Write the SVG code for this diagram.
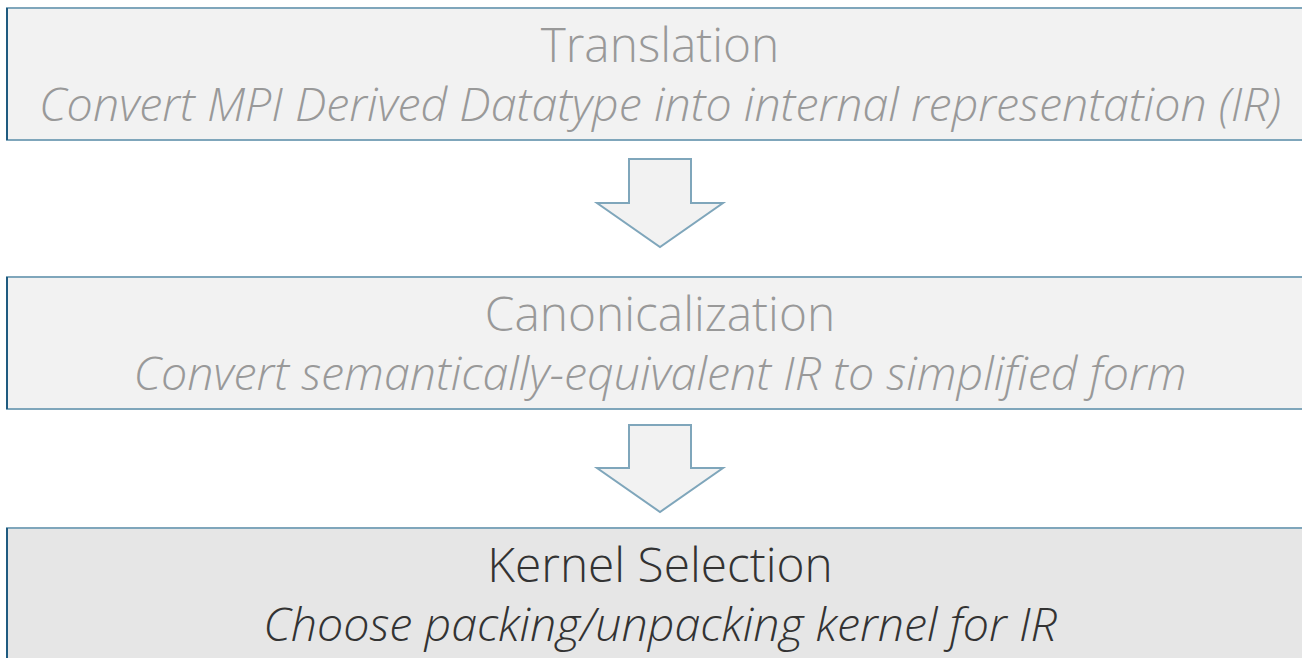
<svg xmlns="http://www.w3.org/2000/svg" width="1302" height="658" viewBox="0 0 1302 658">
<style>
.box{stroke:#7fa6bb;stroke-width:2}
.lb{stroke:#1f5b80;stroke-width:2}
.t{font-family:"Open Sans","Liberation Sans",sans-serif;font-weight:300;text-anchor:middle}
.h{font-size:47.8px}
.s{font-size:46.6px;font-style:italic}
.g{fill:#999999}
.d{fill:#333333}
.arrow{fill:#f2f2f2;stroke:#7fa6bb;stroke-width:2;stroke-linejoin:miter}
</style>
<rect width="1302" height="658" fill="#ffffff"/>
<g id="translation">
<rect class="box" x="7" y="8" width="1300" height="132" fill="#f2f2f2"/>
<line class="lb" x1="7" y1="8" x2="7" y2="140"/>
<text class="t h g" x="660" y="62">Translation</text>
<text class="t s g" x="660" y="121">Convert MPI Derived Datatype into internal representation (IR)</text>
</g>
<g id="canonicalization">
<rect class="box" x="7" y="277" width="1300" height="132" fill="#f2f2f2"/>
<line class="lb" x1="7" y1="277" x2="7" y2="409"/>
<text class="t h g" x="660" y="331">Canonicalization</text>
<text class="t s g" x="660" y="390">Convert semantically-equivalent IR to simplified form</text>
</g>
<g id="kernel-selection">
<rect class="box" x="7" y="528" width="1300" height="140" fill="#e6e6e6"/>
<line class="lb" x1="7" y1="528" x2="7" y2="668"/>
<text class="t h d" x="660" y="582">Kernel Selection</text>
<text class="t s d" x="660" y="641">Choose packing/unpacking kernel for IR</text>
</g>
<g id="connectors">
<polygon class="arrow" points="629,159 691,159 691,203 723,203 660,247 597,203 629,203"/>
<polygon class="arrow" points="629,425 691,425 691,468 723,468 660,512 597,468 629,468"/>
</g>
</svg>
